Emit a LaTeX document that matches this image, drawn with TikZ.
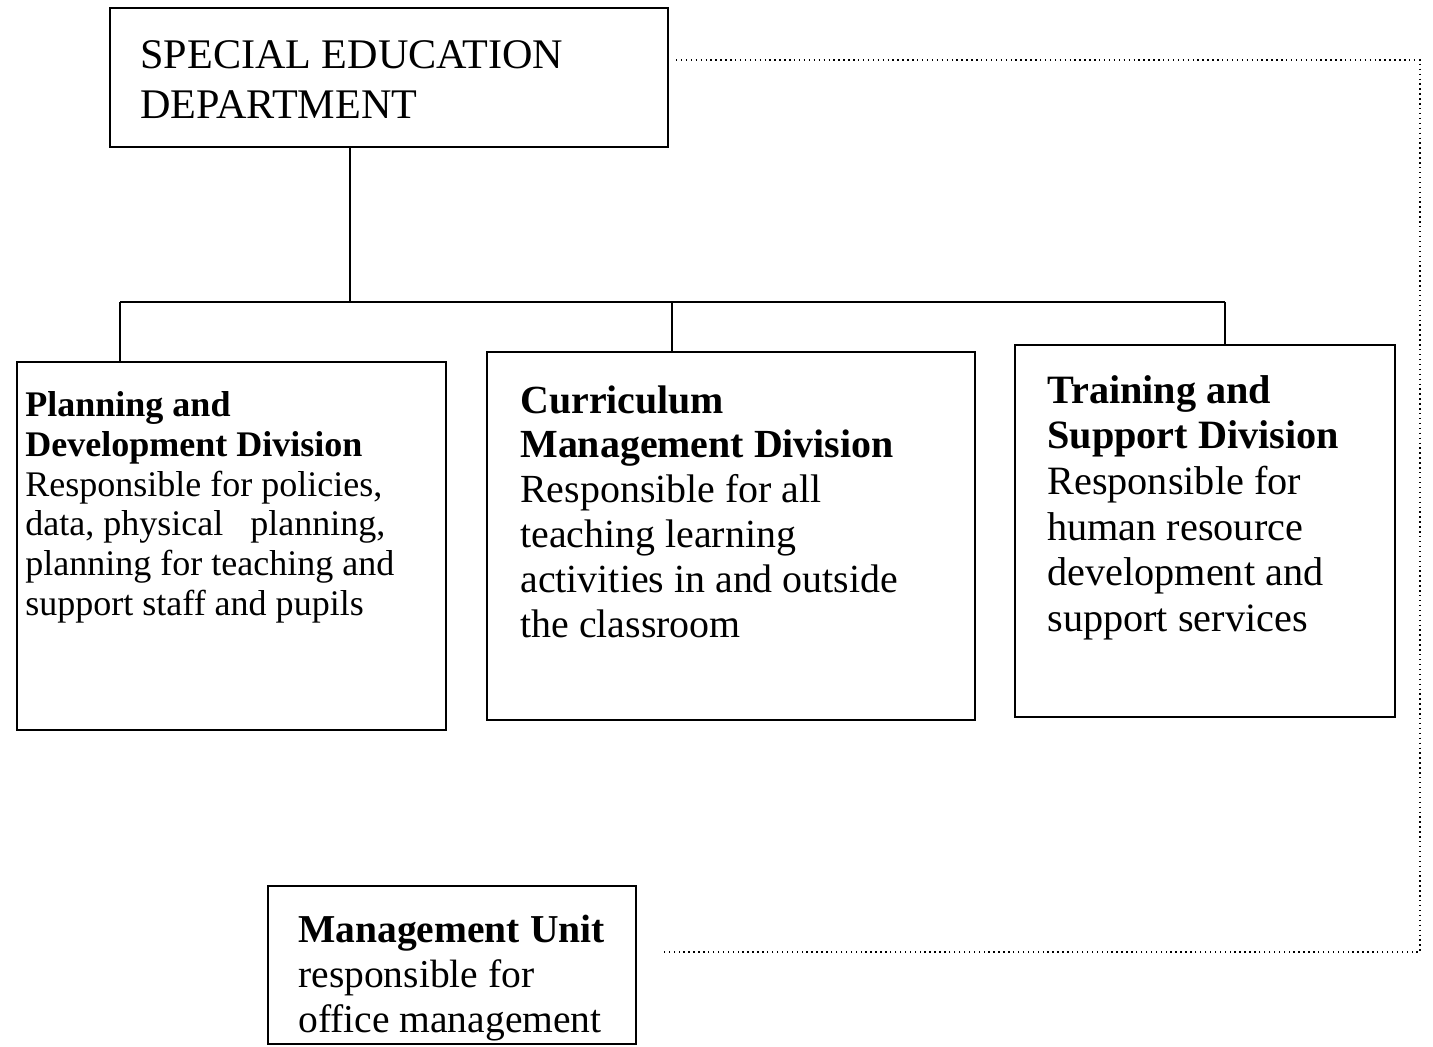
\documentclass[tikz,border=0pt]{standalone}
\usepackage{fontspec}
\setmainfont{Liberation Serif}
\usetikzlibrary{positioning}

\tikzset{
  caixa/.style={draw, line width=1.5pt, anchor=north west, inner sep=0pt, outer sep=0pt},
  texto/.style={anchor=north west, inner sep=0pt, align=left},
  liga/.style={line width=1.5pt},
  pontilhado/.style={line width=0.8pt, dotted}
}

\begin{document}
\begin{tikzpicture}[x=0.02cm, y=-0.02cm]
    \useasboundingbox (0,0) rectangle (1433,1047);

    % Caixa do departamento
    \node[caixa, minimum width=11.16cm, minimum height=2.78cm] (dept) at (110,8) {};
    \node[texto, font=\fontsize{24}{28.5}\selectfont] (dept-txt) at (140,40)
        {SPECIAL EDUCATION\\DEPARTMENT};

    % Divisoes
    \node[caixa, minimum width=8.58cm, minimum height=7.36cm] (plan) at (17,362) {};
    \node[texto, font=\fontsize{20.5}{22.7}\selectfont] (plan-txt) at (25,391)
        {\textbf{Planning and}\\\textbf{Development Division}\\Responsible for policies,\\
         data, physical\ \ \ planning,\\planning for teaching and\\support staff and pupils};

    \node[caixa, minimum width=9.76cm, minimum height=7.36cm] (curr) at (487,352) {};
    \node[texto, font=\fontsize{22.7}{25.5}\selectfont] (curr-txt) at (520,385)
        {\textbf{Curriculum}\\\textbf{Management Division}\\Responsible for all\\
         teaching learning\\activities in and outside\\the classroom};

    \node[caixa, minimum width=7.6cm, minimum height=7.44cm] (train) at (1015,345) {};
    \node[texto, font=\fontsize{22.9}{26}\selectfont] (train-txt) at (1047,375)
        {\textbf{Training and}\\\textbf{Support Division}\\Responsible for\\
         human resource\\development and\\support services};

    % Unidade de gestao
    \node[caixa, minimum width=7.36cm, minimum height=3.16cm] (mgmt) at (268,886) {};
    \node[texto, font=\fontsize{22.5}{25.5}\selectfont] (mgmt-txt) at (298,915)
        {\textbf{Management Unit}\\responsible for\\office management};

    % Barramento
    \coordinate (bus) at (350,302);
    \coordinate (busL) at (120,302);
    \coordinate (busM) at (672,302);
    \coordinate (busR) at (1225,302);
    \draw[liga] (dept.south -| bus) -- (bus);
    \draw[liga] (busL) -- (busR);
    \draw[liga] (busL) -- (busL |- plan.north);
    \draw[liga] (busM) -- (busM |- curr.north);
    \draw[liga] (busR) -- (busR |- train.north);

    % Ligacao pontilhada
    \coordinate (dotA) at (676,60);
    \coordinate (canto) at (1420,952);
    \draw[pontilhado] (dotA) -| (canto) -- ([xshift=0.56cm]mgmt.east |- canto);
\end{tikzpicture}
\end{document}
